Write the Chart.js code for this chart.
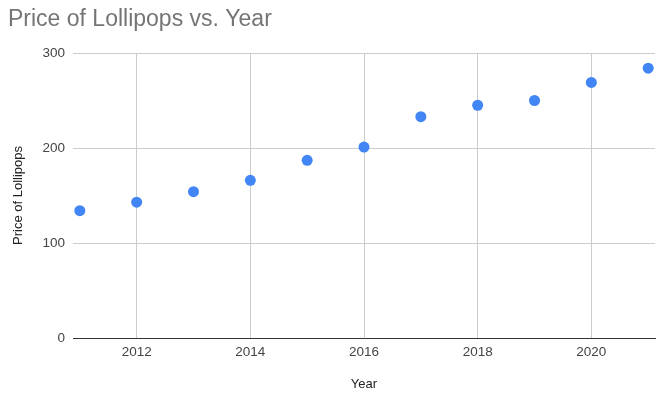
<!DOCTYPE html>
<html>
<head>
<meta charset="utf-8">
<script src="https://cdn.jsdelivr.net/npm/chart.js@4/dist/chart.umd.min.js"></script>
<style>
  html, body { margin: 0; padding: 0; background: #fff; }
  #wrap { width: 668px; height: 397px; }
</style>
</head>
<body>
<div id="wrap"><canvas id="chart" width="668" height="397"></canvas></div>
<script>
// ── Data ─────────────────────────────────────────────────────────────────────

const YEARS  = [2011, 2012, 2013, 2014, 2015, 2016, 2017, 2018, 2019, 2020, 2021];
const PRICES = [134, 143, 154, 166, 187, 201, 233, 245, 250, 269, 284];
const X_TICKS = [2012, 2014, 2016, 2018, 2020];
const Y_TICKS = [0, 100, 200, 300];

const C_POINT = '#4285f4';
const C_GRID  = '#cccccc';
const C_AXIS  = '#333333';
const C_TICK  = '#444444';
const FONT    = '"Liberation Sans", Arial, sans-serif';

Chart.defaults.font.family = FONT;

new Chart(document.getElementById('chart'), {
  type: 'scatter',
  data: {
    datasets: [{
      label: 'Price of Lollipops',
      data: YEARS.map((y, i) => ({ x: y, y: PRICES[i] })),
      backgroundColor: C_POINT,
      borderWidth: 0,
      pointRadius: 5.5,
      pointHoverRadius: 6.5,
    }]
  },
  options: {
    responsive: false,
    animation: false,
    layout: { padding: { left: 8, right: 13, top: 0, bottom: 2 } },
    plugins: {
      legend: { display: false },
      title: {
        display: true,
        text: 'Price of Lollipops vs. Year',
        align: 'start',
        color: '#757575',
        font: { size: 23, weight: 'normal' },
        padding: { top: 6, bottom: 19.4 },
      },
    },
    scales: {
      x: {
        type: 'linear',
        min: 2010.88,
        max: 2021.12,
        afterBuildTicks: s => { s.ticks = X_TICKS.map(v => ({ value: v })); },
        afterFit: s => { s.height = 57; },
        ticks: { color: C_TICK, font: { size: 13.5 }, padding: 6, callback: v => String(v) },
        grid: { color: C_GRID, drawTicks: false },
        border: { color: C_AXIS, width: 1 },
        title: { display: true, text: 'Year', color: '#222', font: { size: 13 }, padding: { top: 4, bottom: 3 } },
      },
      y: {
        min: 0,
        max: 300,
        afterBuildTicks: s => { s.ticks = Y_TICKS.map(v => ({ value: v })); },
        afterFit: s => { s.width = 65; },
        ticks: { color: C_TICK, font: { size: 13.5 }, padding: 8 },
        grid: { color: C_GRID, drawTicks: false },
        border: { display: false },
        title: { display: true, text: 'Price of Lollipops', color: '#222', font: { size: 13 }, padding: { top: 3, bottom: 4 } },
      },
    },
  },
});
</script>
</body>
</html>
